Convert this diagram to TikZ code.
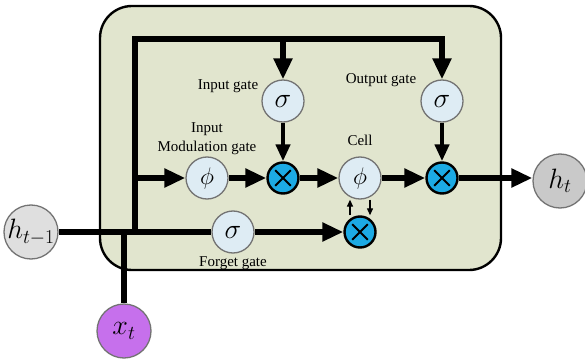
\documentclass[tikz,border=0pt]{standalone}
\usepackage{fix-cm}
\usepackage{fontspec}
\setmainfont{Liberation Serif}
\usetikzlibrary{positioning,arrows.meta}
\definecolor{cellfill}{RGB}{225,229,206}
\definecolor{gatefill}{RGB}{222,236,244}
\definecolor{multfill}{RGB}{28,170,228}
\definecolor{inpurple}{RGB}{198,112,236}
\tikzset{
  wire/.style={line width=6pt},
  flow/.style={wire, -{Triangle[length=21pt,width=18pt]}},
  flowsmall/.style={line width=4.5pt, -{Triangle[length=17pt,width=14pt]}},
  feedback/.style={line width=1.3pt, -{Triangle[length=7pt,width=6pt]}},
  gate/.style={circle, draw=black!55, line width=1.3pt, fill=gatefill,
    minimum size=42pt, inner sep=0pt},
  mult/.style={circle, draw=black, line width=2.4pt, fill=multfill,
    minimum size=31pt, inner sep=0pt,
    path picture={
      \draw[line width=2pt] ([shift={(45:11pt)}]path picture bounding box.center)
        -- ([shift={(225:11pt)}]path picture bounding box.center);
      \draw[line width=2pt] ([shift={(135:11pt)}]path picture bounding box.center)
        -- ([shift={(315:11pt)}]path picture bounding box.center);}},
  term/.style={circle, draw=black!55, line width=1.3pt, minimum size=54pt, inner sep=0pt},
  lbl/.style={font=\fontsize{15}{19}\selectfont, align=center, inner sep=0pt},
  sig/.style={font=\fontsize{28}{28}\selectfont},
  phi/.style={font=\fontsize{24}{24}\selectfont},
  var/.style={font=\fontsize{28}{28}\selectfont},
}

\begin{document}
\begin{tikzpicture}[x=1pt, y=-1pt]
  \useasboundingbox (0,0) rectangle (585,358);
  % cell body
  \node[draw, line width=2.4pt, fill=cellfill, rounded corners=32pt,
    minimum width=401pt, minimum height=264pt] (lstm) at (300.5,138) {};
  % inputs and output
  \node[term, fill=gray!25, var] (hprev) at (31,232) {\makebox[0pt]{$h_{t-1}$}};
  \node[term, fill=inpurple, var] (xt) at (124,331) {\makebox[0pt]{$x_t$}};
  \node[term, fill=gray!42, var] (hnext) at (560,181) {\makebox[0pt]{$h_t$}};
  % gates
  \node[gate, sig] (ig) at (283,101) {$\sigma$};
  \node[gate, phi] (im) at (207,178) {$\phi$};
  \node[mult] (imul) at (283,178) {};
  \node[gate, phi] (cell) at (360,178) {$\phi$};
  \node[gate, sig] (og) at (442,101) {$\sigma$};
  \node[mult] (omul) at (442,178) {};
  \node[gate, sig] (fg) at (233,232) {$\sigma$};
  \node[mult] (fmul) at (360,232) {};
  % labels
  \node[lbl] (iglbl) at (228,86) {Input gate};
  \node[lbl] (imlbl) at (207,139) {Input\\Modulation gate};
  \node[lbl, above=11pt of cell] (celllbl) {Cell};
  \node[lbl] (oglbl) at (381,80) {Output gate};
  \node[lbl, below=3pt of fg] (fglbl) {Forget gate};
  % bus
  \coordinate (j) at (135,232);
  \coordinate (tl) at (135,39);
  \coordinate (tr) at (442,39);
  \draw[wire] (hprev) -- (fg);
  \draw[wire] (xt) -- (xt |- hprev);
  \draw[flow] (j) -- (tl) -- (tr) -- (og);
  \draw[flow] (ig |- tl) -- (ig);
  \draw[flow] (im -| tl) -- (im);
  % flows
  \draw[flow] (im) -- (imul);
  \draw[flowsmall] (ig) -- (imul);
  \draw[flow] (imul) -- (cell);
  \draw[flow] (cell) -- (omul);
  \draw[flowsmall] (og) -- (omul);
  \draw[flow] (omul) -- (hnext.west |- omul);
  \draw[flow] (fg) -- (fmul);
  \draw[feedback] ([xshift=-10pt]fmul.north) -- ([xshift=-10pt]cell.south);
  \draw[feedback] ([xshift=10pt]cell.south) -- ([xshift=10pt]fmul.north);
\end{tikzpicture}
\end{document}
